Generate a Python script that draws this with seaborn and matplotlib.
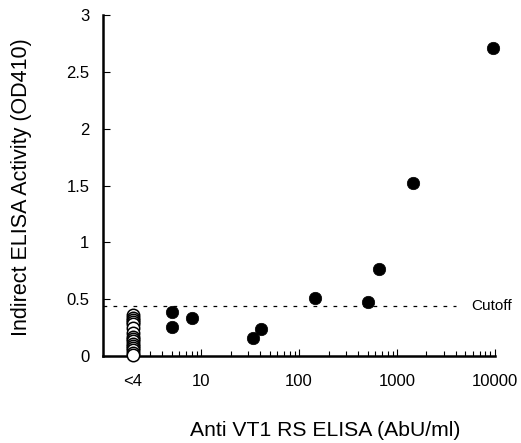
import matplotlib
matplotlib.use("Agg")
import matplotlib.pyplot as plt
import seaborn as sns
import numpy as np
import pandas as pd
from matplotlib.ticker import LogLocator, NullFormatter

# Data
neg_x = [2] * 16
neg_y = [0.36, 0.34, 0.32, 0.30, 0.28, 0.25, 0.20, 0.17, 0.15, 0.13, 0.11, 0.09, 0.07, 0.05, 0.03, 0.01]
pos_x = [5, 5, 8, 34, 41, 145, 505, 657, 1450, 9500]
pos_y = [0.39, 0.26, 0.34, 0.16, 0.24, 0.51, 0.48, 0.77, 1.52, 2.71]
cutoff = 0.44
xtick_vals = [2, 10, 100, 1000, 10000]
xtick_labels = ["<4", "10", "100", "1000", "10000"]
ytick_vals = [0, 0.5, 1, 1.5, 2, 2.5, 3]
ytick_labels = ["0", "0.5", "1", "1.5", "2", "2.5", "3"]

sns.set_style("white")
plt.rcParams["font.family"] = ["Liberation Sans", "DejaVu Sans"]
plt.rcParams["text.color"] = "black"
plt.rcParams["axes.labelcolor"] = "black"
plt.rcParams["xtick.color"] = "black"
plt.rcParams["ytick.color"] = "black"

neg = pd.DataFrame({"x": neg_x, "y": neg_y})
pos = pd.DataFrame({"x": pos_x, "y": pos_y})

fig = plt.figure(figsize=(5.21, 4.43), dpi=100)
ax = fig.add_axes([0.198, 0.196, 0.752, 0.770])

sns.scatterplot(data=neg, x="x", y="y", ax=ax, s=80, color="white",
                edgecolor="black", linewidth=1.1, zorder=3, clip_on=False)
sns.scatterplot(data=pos, x="x", y="y", ax=ax, s=80, color="black",
                edgecolor="black", linewidth=0.5, zorder=4, clip_on=False)

ax.plot([1, 4000], [cutoff, cutoff], color="black", lw=0.9,
        linestyle=(0, (3, 5)), zorder=2)
ax.text(5700, cutoff, "Cutoff", fontsize=11, va="center", ha="left", color="black")

ax.set_xscale("log")
ax.set_xlim(1, 10000)
ax.set_ylim(0, 3)
ax.set_xticks(xtick_vals)
ax.set_xticklabels(xtick_labels)
ax.xaxis.set_minor_locator(LogLocator(base=10, subs=np.arange(2, 10), numticks=20))
ax.xaxis.set_minor_formatter(NullFormatter())
ax.set_yticks(ytick_vals)
ax.set_yticklabels(ytick_labels)

ax.tick_params(axis="x", which="major", direction="in", length=5, width=0.8,
               labelsize=12, pad=13, bottom=True, colors="black")
ax.tick_params(axis="x", which="minor", direction="in", length=3.5, width=0.8,
               bottom=True, colors="black")
ax.tick_params(axis="y", which="major", direction="in", length=5, width=0.8,
               labelsize=12, pad=10, left=True, colors="black")

for side in ["top", "right"]:
    ax.spines[side].set_visible(False)
for side in ["left", "bottom"]:
    ax.spines[side].set_linewidth(1.8)
    ax.spines[side].set_color("black")

ax.set_xlabel("Anti VT1 RS ELISA (AbU/ml)", fontsize=15.2, color="black")
ax.set_ylabel("Indirect ELISA Activity (OD410)", fontsize=15.5, color="black")
ax.xaxis.label.set_verticalalignment("center")
ax.yaxis.label.set_verticalalignment("center")
ax.xaxis.set_label_coords(0.566, -0.217)
ax.yaxis.set_label_coords(-0.209, 0.495)

fig.savefig("out.png", dpi=100)
